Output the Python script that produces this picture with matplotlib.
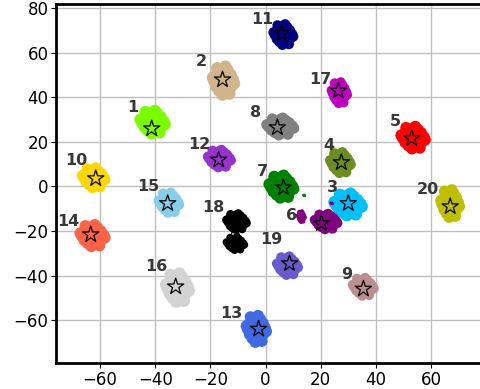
import numpy as np
import matplotlib
matplotlib.use('Agg')
import matplotlib.pyplot as plt

# cluster centres (stars), half width / half height of each cloud, colours
names = ['1', '2', '3', '4', '5', '6', '7', '8', '9', '10',
         '11', '12', '13', '14', '15', '16', '17', '18', '19', '20']
cx = [-41.3, -15.6, 30.0, 27.5, 53.0, 20.3, 6.5, 4.3, 35.5, -61.6,
      5.8, -17.0, -2.5, -63.4, -35.5, -32.6, 26.4, -11.0, 8.7, 67.0]
cy = [26.0, 48.0, -7.6, 10.8, 21.6, -16.6, -0.5, 26.5, -46.0, 3.6,
      68.8, 12.0, -64.0, -21.6, -7.6, -45.0, 43.0, -20.0, -34.6, -9.0]
blob_x = [-40.9, -15.2, 30.0, 27.2, 53.6, 22.0, 5.8, 5.4, 35.5, -62.3,
          6.5, -16.7, -3.3, -62.7, -35.0, -31.9, 26.8, -10.5, 8.0, 67.0]
blob_y = [29.0, 47.6, -8.0, 10.8, 22.0, -15.7, 0.0, 27.0, -45.0, 4.0,
          68.3, 12.6, -63.9, -22.0, -7.2, -45.4, 42.2, -15.7, -35.5, -7.6]
half_w = [7.2, 6.2, 8.0, 6.0, 7.0, 6.7, 7.1, 7.9, 6.2, 6.7,
          5.8, 6.7, 5.8, 7.2, 6.0, 6.6, 4.7, 5.8, 6.2, 5.4]
half_h = [7.8, 9.6, 7.4, 7.1, 7.6, 5.4, 7.7, 5.8, 6.2, 6.9,
          7.1, 6.0, 9.1, 7.4, 6.9, 9.6, 7.4, 5.4, 6.4, 9.4]
colors = ['lawngreen', 'tan', 'deepskyblue', 'olivedrab', 'red', 'purple',
          'green', 'gray', 'rosybrown', 'gold', 'navy', 'darkorchid',
          'royalblue', 'tomato', 'skyblue', 'lightgray', 'm', 'black',
          'slateblue', 'y']
label_x = [-48.2, -23.2, 24.3, 22.8, 47.1, 9.4, -1.1, -3.6, 29.3, -68.8,
           -1.1, -23.9, -12.3, -71.4, -42.4, -39.5, 19.9, -18.8, 2.2, 59.0]
label_y = [35.5, 56.2, -0.4, 18.4, 29.2, -13.0, 6.7, 33.3, -39.6, 11.7,
           75.0, 18.9, -57.0, -15.7, 0.0, -36.0, 48.0, -9.4, -23.8, -1.3]

# extra pieces of split clouds: (cluster index, x, y, half w, half h)
extra = [(5, 13.0, -13.5, 2.0, 3.6),
         (17, -10.9, -25.6, 5.2, 4.5),
         (6, 14.0, -4.0, 0.8, 0.8),
         (5, 24.0, -7.6, 1.0, 0.8)]

# irregular blob template (unit size) used to fill each cloud
tpl_x = [0, 0.4, 0.2, -0.2, -0.4, -0.2, 0.2,
         0.8, 0.6, 0.35, 0, -0.4, -0.65, -0.8, -0.62, -0.38, 0, 0.42, 0.66,
         0.9, 0.15, -0.55, -0.92, 0.5, -0.1]
tpl_y = [0, 0, 0.35, 0.35, 0, -0.35, -0.35,
         0.05, 0.4, 0.7, 0.8, 0.68, 0.35, -0.05, -0.42, -0.7, -0.8, -0.66, -0.38,
         -0.2, 0.95, 0.85, 0.2, -0.9, -0.97]
tpl_x = np.array(tpl_x)
tpl_y = np.array(tpl_y)

fig = plt.figure(figsize=(4.8, 3.89), dpi=100)
ax = fig.add_axes([0.1167, 0.0668, 0.8833, 0.923])
ax.set_xlim(-76, 77.8)
ax.set_ylim(-79.3, 82)

px_x = ax.get_position().width * 480 / (77.8 + 76)
px_y = ax.get_position().height * 389 / (82 + 79.3)


def blob(x0, y0, w, h, c):
    k = 0.68
    rad_px = (1 - k) * (w * px_x + h * px_y) / 2
    size = (rad_px * 2 * 72 / 100) ** 2
    ax.scatter(x0 + tpl_x * w * k, y0 + tpl_y * h * k, s=size, c=c,
               edgecolors='none', zorder=2)


for i in range(len(names)):
    blob(blob_x[i], blob_y[i], half_w[i], half_h[i], colors[i])
for i, x0, y0, w, h in extra:
    blob(x0, y0, w, h, colors[i])

ax.scatter(cx, cy, marker='*', s=150, facecolors='none', edgecolors='black',
           linewidths=0.9, zorder=3)
for i in range(len(names)):
    ax.text(label_x[i], label_y[i], names[i], fontsize=11.5, fontweight='bold',
            color='#383838', ha='center', va='center', zorder=4)

ax.set_xticks([-60, -40, -20, 0, 20, 40, 60])
ax.set_yticks([-60, -40, -20, 0, 20, 40, 60, 80])
ax.tick_params(labelsize=12, pad=2)
ax.grid(True, color='#c0c0c0', linewidth=1)
ax.set_axisbelow(True)
for s in ['left', 'bottom', 'top']:
    ax.spines[s].set_linewidth(2)
ax.spines['right'].set_visible(False)

fig.savefig('out.png', dpi=100)
